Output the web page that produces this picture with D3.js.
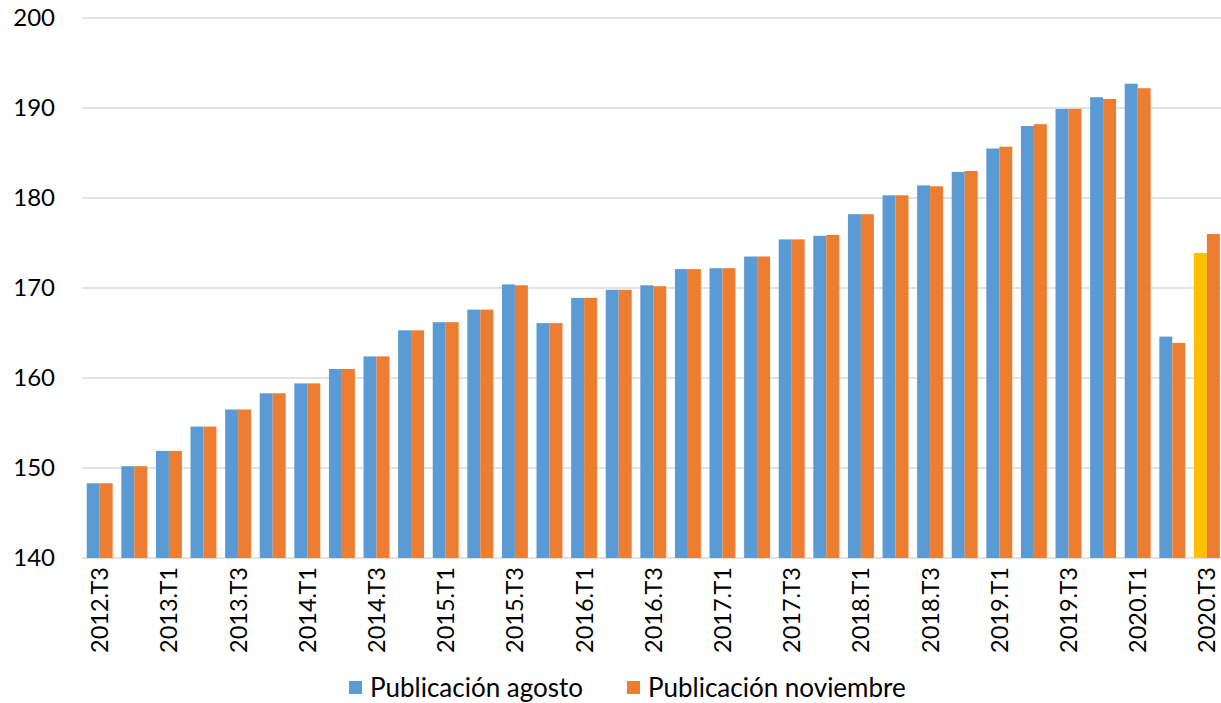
<!DOCTYPE html>
<html>
<head>
<meta charset="utf-8">
<script src="https://cdn.jsdelivr.net/npm/d3@7"></script>
<style>
  html, body { margin: 0; padding: 0; background: #fff; }
  svg { display: block; font-family: Lato, "Open Sans", sans-serif; }
</style>
</head>
<body>
<svg id="chart" width="1221" height="703"></svg>
<script>
const categories = [
  "2012.T3","2012.T4",
  "2013.T1","2013.T2","2013.T3","2013.T4",
  "2014.T1","2014.T2","2014.T3","2014.T4",
  "2015.T1","2015.T2","2015.T3","2015.T4",
  "2016.T1","2016.T2","2016.T3","2016.T4",
  "2017.T1","2017.T2","2017.T3","2017.T4",
  "2018.T1","2018.T2","2018.T3","2018.T4",
  "2019.T1","2019.T2","2019.T3","2019.T4",
  "2020.T1","2020.T2","2020.T3"
];
const publicacionAgosto = [
  148.3, 150.2,
  151.9, 154.6, 156.5, 158.3,
  159.4, 161.0, 162.4, 165.3,
  166.2, 167.6, 170.4, 166.1,
  168.9, 169.8, 170.3, 172.1,
  172.2, 173.5, 175.4, 175.8,
  178.2, 180.3, 181.4, 182.9,
  185.5, 188.0, 189.9, 191.2,
  192.7, 164.6, 173.9
];
const publicacionNoviembre = [
  148.3, 150.2,
  151.9, 154.6, 156.5, 158.3,
  159.4, 161.0, 162.4, 165.3,
  166.2, 167.6, 170.3, 166.1,
  168.9, 169.8, 170.2, 172.1,
  172.2, 173.5, 175.4, 175.9,
  178.2, 180.3, 181.3, 183.0,
  185.7, 188.2, 189.9, 191.0,
  192.2, 163.9, 176.0
];
const seriesNames = ["Publicación agosto", "Publicación noviembre"];
const yTicks = [140, 150, 160, 170, 180, 190, 200];
const highlightedCategory = "2020.T3"; // agosto bar drawn in yellow

const colors = { agosto: "#5B9BD5", noviembre: "#ED7D31", highlight: "#FFC000" };

const svg = d3.select("#chart");
const plot = { left: 82.4, right: 1224.2, top: 18, bottom: 558 };

const x = d3.scaleBand().domain(categories)
  .range([plot.left, plot.right]).paddingInner(0.25).paddingOuter(0.125);
const xSub = d3.scaleBand().domain([0, 1]).range([0, x.bandwidth()]);
const y = d3.scaleLinear().domain([140, 200]).range([plot.bottom, plot.top]);

// gridlines
svg.append("g").selectAll("line").data(yTicks).join("line")
  .attr("x1", plot.left).attr("x2", 1221)
  .attr("y1", d => y(d)).attr("y2", d => y(d))
  .attr("stroke", "#D9D9D9").attr("stroke-width", 1.3);

// y axis labels
const yAxis = d3.axisLeft(y).tickValues(yTicks).tickSize(0).tickPadding(0);
const gy = svg.append("g").attr("transform", "translate(55,0)").call(yAxis);
gy.select(".domain").remove();
gy.selectAll("text").attr("font-size", 24).attr("fill", "#000")
  .style("font-family", "Lato, 'Open Sans', sans-serif");

// bars
const rows = categories.map((c, i) => ({ c, a: publicacionAgosto[i], n: publicacionNoviembre[i] }));
const groups = svg.append("g").selectAll("g").data(rows).join("g")
  .attr("transform", d => `translate(${x(d.c)},0)`);
groups.append("rect")
  .attr("x", xSub(0)).attr("width", xSub.bandwidth())
  .attr("y", d => y(d.a)).attr("height", d => y(140) - y(d.a))
  .attr("fill", d => d.c === highlightedCategory ? colors.highlight : colors.agosto);
groups.append("rect")
  .attr("x", xSub(1)).attr("width", xSub.bandwidth())
  .attr("y", d => y(d.n)).attr("height", d => y(140) - y(d.n))
  .attr("fill", colors.noviembre);

// x axis labels
const xAxis = d3.axisBottom(x)
  .tickValues(categories.filter((c, i) => i % 2 === 0))
  .tickSize(0).tickPadding(0);
const gx = svg.append("g").attr("transform", `translate(0,${plot.bottom})`).call(xAxis);
gx.select(".domain").remove();
gx.selectAll("text")
  .attr("font-size", 23.5).attr("fill", "#000")
  .style("font-family", "Lato, 'Open Sans', sans-serif")
  .attr("text-anchor", "end")
  .attr("transform", "rotate(-90)")
  .attr("x", -9).attr("y", 0).attr("dy", "0.36em");

// legend
const legend = svg.append("g");
const legendItems = [
  { name: seriesNames[0], color: colors.agosto, x: 349 },
  { name: seriesNames[1], color: colors.noviembre, x: 627 }
];
const li = legend.selectAll("g").data(legendItems).join("g")
  .attr("transform", d => `translate(${d.x},681)`);
li.append("rect").attr("width", 13).attr("height", 13).attr("fill", d => d.color);
li.append("text").attr("x", 21).attr("y", 7).attr("dy", "0.36em")
  .attr("font-size", 26).attr("fill", "#000").text(d => d.name);
</script>
</body>
</html>
